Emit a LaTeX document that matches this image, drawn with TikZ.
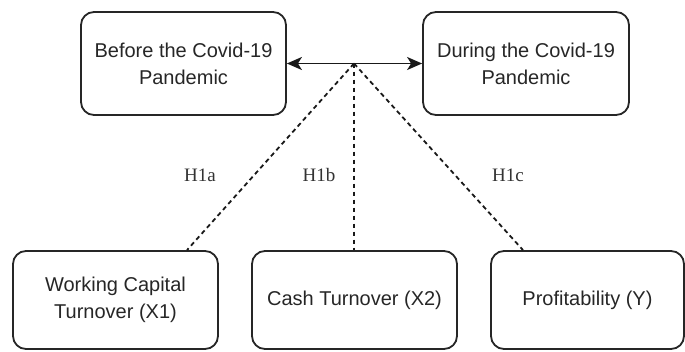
\documentclass[tikz,border=0pt]{standalone}
\usepackage{fontspec}
\setmainfont{Liberation Sans}
\newfontfamily\serifl{Liberation Serif}
\usetikzlibrary{arrows.meta,calc}
\begin{document}
\begin{tikzpicture}[x=1pt,y=-1pt,
  box/.style={draw=black!85,line width=1.8pt,rounded corners=13pt,align=center,
    font=\fontsize{20}{27}\selectfont,inner sep=0pt,text=black!85},
  dline/.style={draw=black!90,line width=1.8pt,dash pattern=on 4.5pt off 3.5pt},
  tip/.style={Stealth[length=15pt,width=13pt,inset=4pt]},
  hlabel/.style={font=\serifl\fontsize{19}{22}\selectfont,text=black!80}]
\useasboundingbox (0,0) rectangle (685,351);
\node[box,minimum width=205pt,minimum height=103pt] (before) at (183.5,63.5) {Before the Covid-19\\Pandemic};
\node[box,minimum width=206pt,minimum height=103pt] (during) at (526,63.5) {During the Covid-19\\Pandemic};
\node[box,minimum width=205pt,minimum height=98pt] (wct) at (115.5,300) {Working Capital\\Turnover (X1)};
\node[box,minimum width=205pt,minimum height=98pt] (ct) at (354.5,300) {Cash Turnover (X2)};
\node[box,minimum width=193pt,minimum height=98pt] (prof) at (587.5,300) {Profitability (Y)};
\draw[line width=1.8pt,black!90,{Stealth[length=15pt,width=13pt,inset=4pt]}-{Stealth[length=15pt,width=13pt,inset=4pt]}] (before.east) -- (during.west);
\coordinate (j) at (354,63.5);
\draw[dline] (j) -- ([xshift=71.5pt]wct.north);
\draw[dline] (j) -- (j |- ct.north);
\draw[dline] (j) -- ([xshift=-64.5pt]prof.north);
\node[hlabel] (h1a) at (200,175) {H1a};
\node[hlabel] (h1b) at (319,175) {H1b};
\node[hlabel] (h1c) at (508,175) {H1c};
\end{tikzpicture}
\end{document}
